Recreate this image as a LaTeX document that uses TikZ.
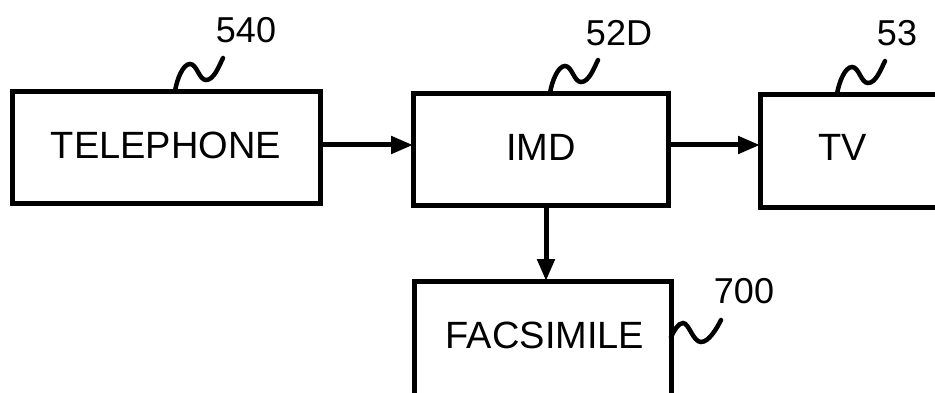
\documentclass[tikz,border=0pt]{standalone}
\usepackage{fontspec}
\setmainfont{Liberation Sans}
\usetikzlibrary{arrows.meta}
\begin{document}
\begin{tikzpicture}[x=1pt,y=-1pt,
  blk/.style={draw=black,line width=5pt},
  txt/.style={font=\fontsize{38}{40}\selectfont,inner sep=0pt},
  conn/.style={line width=5pt,-{Triangle[length=22pt,width=17pt]}},
  wig/.style={line width=4.5pt,line cap=round},
  lbl/.style={font=\fontsize{36}{38}\selectfont,inner sep=0pt}]
\useasboundingbox (0,0) rectangle (935,393);
\clip (0,0) rectangle (935,393);
% boxes
\draw[blk] (12,92) rectangle (320,204);
\node[txt] (tel) at (166,145) {TELEPHONE};
\coordinate (telE) at (320,145);
\draw[blk] (413,94) rectangle (668,206);
\node[txt] (imd) at (541,147) {IMD};
\coordinate (imdW) at (413,145);
\coordinate (imdE) at (668,145);
\coordinate (imdS) at (546,206);
\draw[blk] (760,95) rectangle (960,208);
\node[txt] (tv) at (843,147) {TV};
\coordinate (tvW) at (760,145);
\draw[blk] (414,281) rectangle (671,420);
\node[txt] (fax) at (545,335) {FACSIMILE};
\coordinate (faxN) at (546,281);
\coordinate (faxE) at (671,337);
% connectors
\draw[conn] (telE) -- (imdW);
\draw[conn] (imdE) -- (tvW);
\draw[conn] (imdS) -- (faxN);
% reference labels
\node[lbl] (l540) at (246,30) {540};
\node[lbl] (l52d) at (619,33) {52D};
\node[lbl] (l53) at (897,33) {53};
\node[lbl] (l700) at (744,291) {700};
% squiggles
\coordinate (s1) at (175,91);
\coordinate (s2) at (550,93);
\coordinate (s3) at (837,94);
\foreach \s in {s1,s2,s3}
  \draw[wig] (\s) .. controls +(2,-12) and +(-7,0) .. ++(15,-27)
     .. controls +(7,0) and +(-7,0) .. ++(16,16)
     .. controls +(8,0) and +(-4,8) .. ++(17,-22);
\draw[wig] (faxE) .. controls +(3,-6) and +(-5,0) .. ++(12,-14)
     .. controls +(6,0) and +(-8,0) .. ++(18,19)
     .. controls +(8,0) and +(-4,8) .. ++(20,-22);
\end{tikzpicture}
\end{document}
